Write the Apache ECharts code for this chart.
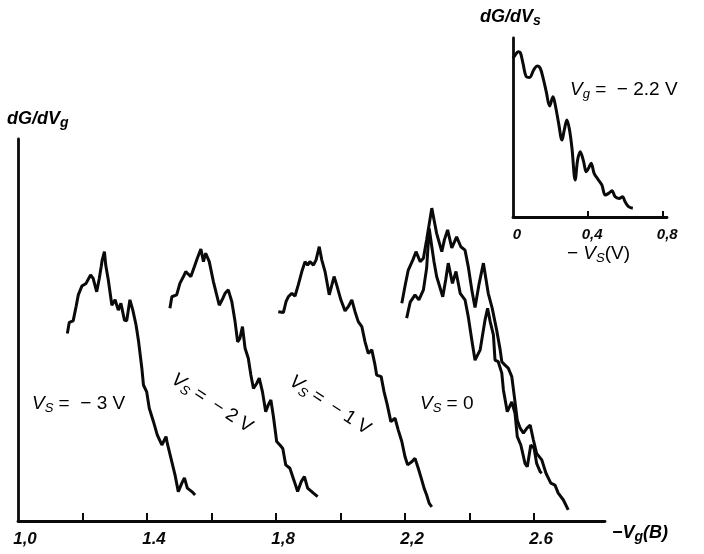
<!DOCTYPE html>
<html lang="en">
<head>
<meta charset="UTF-8">
<title>dG/dVg</title>
<script src="https://cdn.jsdelivr.net/npm/echarts@6/dist/echarts.min.js"></script>
<style>body{margin:0;background:#fff}</style>
</head>
<body>
<div id="main" style="width:704px;height:554px"></div>
<script>
// -Vg (V) against dG/dVg (arb. units), one trace per source bias
var vs3X = [1.153,1.159,1.171,1.180,1.187,1.198,1.211,1.225,1.233,1.244,1.252,1.258,1.261,1.268,1.272,1.280,1.291,1.301,1.311,1.319,1.330,1.337,1.347,1.356,1.366,1.374,1.384,1.389,1.399,1.407,1.420,1.432,1.446,1.459,1.463,1.477,1.487,1.497,1.508,1.516,1.525,1.539,1.549];
var vs3Y = [49.1,52.0,52.4,56.1,59.2,61.5,62.2,64.4,63.5,60.0,63.5,66.6,68.3,70.5,67.0,63.1,56.5,57.9,55.2,57.0,52.6,52.4,57.9,55.2,51.3,46.9,40.0,35.6,33.8,29.5,26.0,22.5,19.9,22.1,20.3,15.5,12.0,7.7,9.9,11.3,8.6,7.7,6.8];

var vs2X = [1.471,1.477,1.492,1.502,1.513,1.520,1.528,1.536,1.547,1.556,1.567,1.575,1.582,1.593,1.606,1.616,1.624,1.633,1.642,1.652,1.663,1.673,1.681,1.688,1.696,1.704,1.714,1.722,1.730,1.740,1.748,1.758,1.768,1.776,1.784,1.792,1.802,1.812,1.821,1.830,1.843,1.857,1.867,1.878,1.888,1.898,1.916,1.929];
var vs2Y = [55.7,58.7,59.2,62.2,64.0,65.3,64.6,64.0,66.6,68.8,71.2,67.9,70.1,67.9,62.6,59.2,56.5,57.9,59.6,60.5,57.4,52.2,46.9,47.8,50.9,45.2,42.6,38.2,34.7,36.0,37.4,33.8,28.6,30.4,31.7,27.3,20.8,19.9,19.0,14.7,13.8,10.3,7.7,10.3,11.6,8.6,7.3,6.4];

var vs1X = [1.807,1.823,1.831,1.838,1.849,1.859,1.869,1.880,1.890,1.898,1.905,1.916,1.924,1.934,1.942,1.952,1.965,1.980,1.988,2.001,2.014,2.024,2.035,2.045,2.055,2.066,2.076,2.086,2.097,2.107,2.112,2.126,2.135,2.145,2.156,2.169,2.179,2.190,2.200,2.208,2.221,2.231,2.241,2.252,2.259,2.267,2.275,2.283];
var vs1Y = [54.8,54.6,57.4,58.7,59.6,58.9,61.8,65.3,67.9,67.0,67.9,67.0,68.3,71.8,68.3,65.3,59.2,64.0,61.8,57.9,55.0,56.1,57.9,54.8,52.2,50.9,46.9,43.9,44.8,40.8,38.2,37.8,33.8,30.4,26.0,26.9,23.8,20.8,16.8,14.7,15.5,16.4,13.8,10.7,8.6,6.8,4.6,3.7];

// Vs = 0, two sweeps
var vs0aX = [2.190,2.200,2.210,2.224,2.234,2.247,2.257,2.267,2.276,2.283,2.290,2.298,2.314,2.322,2.332,2.345,2.360,2.373,2.386,2.396,2.407,2.417,2.429,2.443,2.458,2.470,2.484,2.495,2.500,2.510,2.520,2.531,2.541,2.548,2.557,2.567,2.578,2.588,2.598,2.608,2.624,2.637,2.652,2.665,2.675,2.691,2.706];
var vs0aY = [57.0,61.5,65.7,68.3,70.5,67.9,68.8,73.6,78.3,81.9,78.8,75.3,70.5,73.6,76.2,71.5,74.4,71.8,70.9,66.6,60.5,55.9,61.8,67.5,59.6,55.8,50.0,44.8,41.7,40.8,40.0,37.8,31.2,26.4,24.3,23.0,24.3,25.1,21.2,17.7,16.0,12.5,9.9,9.4,7.3,5.5,2.9];
var vs0bX = [2.205,2.216,2.231,2.243,2.257,2.267,2.275,2.283,2.290,2.298,2.317,2.326,2.334,2.347,2.358,2.371,2.386,2.396,2.407,2.417,2.433,2.448,2.456,2.464,2.474,2.479,2.489,2.500,2.505,2.517,2.531,2.541,2.548,2.559,2.572,2.579,2.590,2.600,2.608,2.619,2.624];
var vs0bY = [53.1,57.3,59.2,57.9,60.5,66.2,76.6,71.8,67.8,64.0,58.7,63.1,67.5,62.2,65.3,59.6,57.9,53.5,47.4,42.1,44.8,52.6,55.7,52.2,48.7,42.1,41.7,38.7,34.3,28.6,31.2,28.2,22.1,19.9,15.1,14.2,19.9,19.1,15.1,12.9,12.5];

// inset: -Vs (V) against dG/dVs at Vg = -2.2 V
var insetX = [0.000,0.012,0.027,0.039,0.053,0.071,0.088,0.110,0.128,0.145,0.163,0.177,0.195,0.213,0.225,0.243,0.261,0.273,0.287,0.301,0.314,0.331,0.344,0.358,0.376,0.390,0.402,0.416,0.432,0.452,0.473,0.491,0.509,0.527,0.544,0.565,0.583,0.597,0.615,0.638];
var insetY = [88.7,90.5,92.3,91.8,85.9,78.4,78.0,82.1,84.4,83.1,76.5,70.0,62.0,67.2,62.6,52.3,43.0,48.6,54.2,48.6,38.4,20.7,31.8,36.5,30.9,25.3,27.2,30.0,24.4,21.1,17.9,12.3,13.2,14.7,11.3,10.4,11.3,8.5,5.8,4.9];

// axis ticks and their printed labels
var mainTicks = [1.2,1.4,1.6,1.8,2.0,2.2,2.4,2.6];
var mainLabelVals = [1.0,1.4,1.8,2.2,2.6];
var mainLabels = ['1,0','1.4','1,8','2,2','2.6'];
var insetTicks = [0.4,0.8];
var insetLabelVals = [0,0.4,0.8];
var insetLabels = ['0','0,4','0,8'];

function pairs(xs, ys) {
  return xs.map(function (x, i) { return [x, ys[i]]; });
}
function labelFor(vals, names) {
  return function (v) {
    for (var i = 0; i < vals.length; i++) {
      if (Math.abs(vals[i] - v) < 1e-6) return names[i];
    }
    return '';
  };
}

var ink = '#0a0a0a';
var sans = 'Liberation Sans';
var tickFont = {color: ink, fontFamily: sans, fontWeight: 'bold', fontStyle: 'italic'};

function curve(name, xs, ys, idx, smooth) {
  return {
    name: name, type: 'line', xAxisIndex: idx, yAxisIndex: idx,
    data: pairs(xs, ys), showSymbol: false, smooth: smooth || false,
    lineStyle: {color: ink, width: 3}, silent: true
  };
}

var annot = {
  v: {fontStyle: 'italic', fontSize: 19, fontFamily: sans, color: '#222'},
  s: {fontStyle: 'italic', fontSize: 13, fontFamily: sans, color: '#222', padding: [10, 0, 0, 0]},
  t: {fontSize: 19, fontFamily: sans, color: '#222'}
};
var bold = {
  b: {fontStyle: 'italic', fontWeight: 'bold', fontSize: 18, fontFamily: sans, color: ink},
  bs: {fontStyle: 'italic', fontWeight: 'bold', fontSize: 14, fontFamily: sans, color: ink, padding: [9, 0, 0, 0]}
};

var chart = echarts.init(document.getElementById('main'));
chart.setOption({
  backgroundColor: '#fff',
  animation: false,
  grid: [
    {left: 18, right: 99, top: 139, bottom: 33},
    {left: 513, right: 37, top: 38, bottom: 337}
  ],
  xAxis: [
    {
      type: 'value', gridIndex: 0, min: 1.0, max: 2.82,
      splitLine: {show: false},
      axisLine: {show: true, lineStyle: {color: ink, width: 2.8}},
      axisTick: {show: true, inside: true, length: 8, customValues: mainTicks, lineStyle: {color: ink, width: 2}},
      axisLabel: Object.assign({fontSize: 17, margin: 10, customValues: mainLabelVals,
        formatter: labelFor(mainLabelVals, mainLabels), padding: [0, 0, 0, 14]}, tickFont)
    },
    {
      type: 'value', gridIndex: 1, min: 0, max: 0.82,
      splitLine: {show: false},
      axisLine: {show: true, lineStyle: {color: ink, width: 2.8}},
      axisTick: {show: true, inside: true, length: 6, customValues: insetTicks, lineStyle: {color: ink, width: 2}},
      axisLabel: Object.assign({fontSize: 15, margin: 10, customValues: insetLabelVals,
        formatter: labelFor(insetLabelVals, insetLabels), padding: [0, 0, 0, 8]}, tickFont)
    }
  ],
  yAxis: [
    {type: 'value', gridIndex: 0, min: 0, max: 100, splitLine: {show: false},
      axisLine: {show: true, lineStyle: {color: ink, width: 2.8}},
      axisTick: {show: false}, axisLabel: {show: false}},
    {type: 'value', gridIndex: 1, min: 0, max: 100, splitLine: {show: false},
      axisLine: {show: true, lineStyle: {color: ink, width: 2.8}},
      axisTick: {show: false}, axisLabel: {show: false}}
  ],
  series: [
    curve('Vs=-3', vs3X, vs3Y, 0),
    curve('Vs=-2', vs2X, vs2Y, 0),
    curve('Vs=-1', vs1X, vs1Y, 0),
    curve('Vs=0 a', vs0aX, vs0aY, 0),
    curve('Vs=0 b', vs0bX, vs0bY, 0),
    curve('inset', insetX, insetY, 1, 0.35)
  ],
  graphic: [
    {type: 'text', left: 7, top: 110, style: {text: '{b|dG/dV}{bs|g}', rich: bold}},
    {type: 'text', left: 612, top: 524, style: {text: '{b|−V}{bs|g}{b|(B)}', rich: bold}},
    {type: 'text', left: 480, top: 8, style: {text: '{b|dG/dV}{bs|s}', rich: bold}},
    {type: 'text', left: 570, top: 80, style: {text: '{v|V}{s|g}{t| =  − 2.2 V}', rich: annot}},
    {type: 'text', left: 567, top: 244, style: {text: '{t|− }{v|V}{s|S}{t|(V)}', rich: annot}},
    {type: 'text', left: 32, top: 394, style: {text: '{v|V}{s|S}{t| =  − 3 V}', rich: annot}},
    {type: 'text', left: 420, top: 394, style: {text: '{v|V}{s|S}{t| = 0}', rich: annot}},
    {type: 'text', x: 212, y: 403, rotation: -0.58,
      style: {text: '{v|V}{s|S}{t| =  − 2 V}', rich: annot, align: 'center', verticalAlign: 'middle'}},
    {type: 'text', x: 330, y: 405, rotation: -0.58,
      style: {text: '{v|V}{s|S}{t| =  − 1 V}', rich: annot, align: 'center', verticalAlign: 'middle'}}
  ]
});
</script>
</body>
</html>
